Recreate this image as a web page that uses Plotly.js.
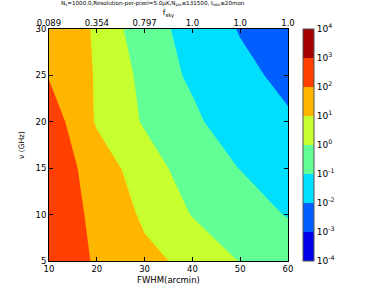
<!DOCTYPE html>
<html>
<head>
<meta charset="utf-8">
<script src="https://cdn.plot.ly/plotly-3.0.1.min.js"></script>
<style>html,body{margin:0;padding:0;background:#fff;}#chart{width:388px;height:291px;}</style>
</head>
<body>
<div id="chart"></div>
<script>
// FWHM (arcmin) along x, frequency nu (GHz) along y
const fwhm = [10, 20, 30, 40, 50, 60];
const nu = [5, 10, 15, 20, 25, 30];
const fskyLabels = ['0.089', '0.354', '0.797', '1.0', '1.0', '1.0'];
// log10 of the plotted quantity, rows = nu, columns = fwhm
const log10Values = [
  [2.64, 1.90, 1.22, 0.78, -0.041, -0.29],
  [2.80, 1.719, 0.853, -0.045, -0.50, -1.062],
  [2.70, 1.533, 0.488, -0.488, -1.021, -1.50],
  [2.567, 0.90, -0.10, -0.75, -1.75, -1.85],
  [1.937, 0.918, -0.274, -1.193, -1.70, -2.29],
  [1.80, 0.875, -0.688, -1.255, -2.07, -2.70]
];
const levelExponents = [-4, -3, -2, -1, 0, 1, 2, 3, 4];
const levelLabels = levelExponents.map(e => '10<sup>' + e + '</sup>');
const bandColors = ['rgb(0,0,235)', 'rgb(0,94,255)', 'rgb(0,222,253)', 'rgb(97,255,150)',
                    'rgb(200,255,47)', 'rgb(255,182,0)', 'rgb(255,64,0)', 'rgb(165,0,0)'];

const n = bandColors.length;
const colorscale = [];
bandColors.forEach((c, i) => { colorscale.push([i / n, c]); colorscale.push([(i + 1) / n, c]); });

const font = {family: 'DejaVu Sans, sans-serif', color: '#000'};

const trace = {
  type: 'contour',
  x: fwhm, y: nu, z: log10Values,
  zmin: levelExponents[0], zmax: levelExponents[levelExponents.length - 1],
  autocontour: false,
  contours: {start: levelExponents[0], end: levelExponents[levelExponents.length - 1], size: 1, coloring: 'fill', showlines: false},
  line: {width: 0, smoothing: 0},
  colorscale: colorscale,
  hoverinfo: 'skip',
  colorbar: {
    x: 1.0646, xanchor: 'left', xpad: 0, ypad: 0,
    y: 0.5, yanchor: 'middle', len: 1, lenmode: 'fraction',
    thickness: 11, thicknessmode: 'pixels',
    outlinecolor: '#555', outlinewidth: 1,
    tickmode: 'array', tickvals: levelExponents, ticktext: levelLabels,
    ticks: '', ticklabelpad: 2,
    tickfont: Object.assign({size: 9}, font)
  }
};

// carrier trace for the top f_sky axis (invisible markers at the FWHM positions)
const topAxisTrace = {
  type: 'scatter', mode: 'markers',
  x: fwhm, y: nu, xaxis: 'x2', yaxis: 'y',
  marker: {opacity: 0, size: 1},
  hoverinfo: 'skip', showlegend: false
};

const layout = {
  width: 388, height: 291,
  margin: {l: 48.5, r: 99.5, t: 29.3, b: 29.7, pad: 0},
  paper_bgcolor: '#fff', plot_bgcolor: '#fff',
  showlegend: false,
  title: {
    text: 'N<sub>s</sub>=1000.0,Resolution-per-pixel=5.0μK,N<sub>pix</sub>≤131500, t<sub>obs</sub>≤20mon',
    font: Object.assign({size: 5.6}, font),
    x: 0.434, xanchor: 'center', xref: 'paper',
    y: 0.998, yanchor: 'top', yref: 'container'
  },
  xaxis: {
    range: [10, 60], tickmode: 'array', tickvals: fwhm,
    ticks: 'inside', ticklen: 4, tickcolor: '#000', mirror: 'ticks',
    showline: true, linecolor: '#000', linewidth: 1,
    showgrid: false, zeroline: false,
    tickfont: Object.assign({size: 8.5}, font),
    title: {text: 'FWHM(arcmin)', font: Object.assign({size: 8.5}, font), standoff: 3}
  },
  xaxis2: {
    range: [10, 60], overlaying: 'x', side: 'top', anchor: 'y',
    tickmode: 'array', tickvals: fwhm, ticktext: fskyLabels,
    ticks: '', showgrid: false, zeroline: false, showline: false,
    tickfont: Object.assign({size: 8.5}, font),
    title: {text: 'f<sub>sky</sub>', font: Object.assign({size: 7.5}, font), standoff: 1}
  },
  yaxis: {
    range: [5, 30], tickmode: 'array', tickvals: nu,
    ticks: 'inside', ticklen: 4, tickcolor: '#000', mirror: 'ticks',
    showline: true, linecolor: '#000', linewidth: 1,
    showgrid: false, zeroline: false,
    tickfont: Object.assign({size: 8.5}, font),
    title: {text: 'ν (GHz)', font: Object.assign({size: 7.5}, font), standoff: 9}
  }
};

Plotly.newPlot('chart', [trace, topAxisTrace], layout, {staticPlot: true, displayModeBar: false});
</script>
</body>
</html>
